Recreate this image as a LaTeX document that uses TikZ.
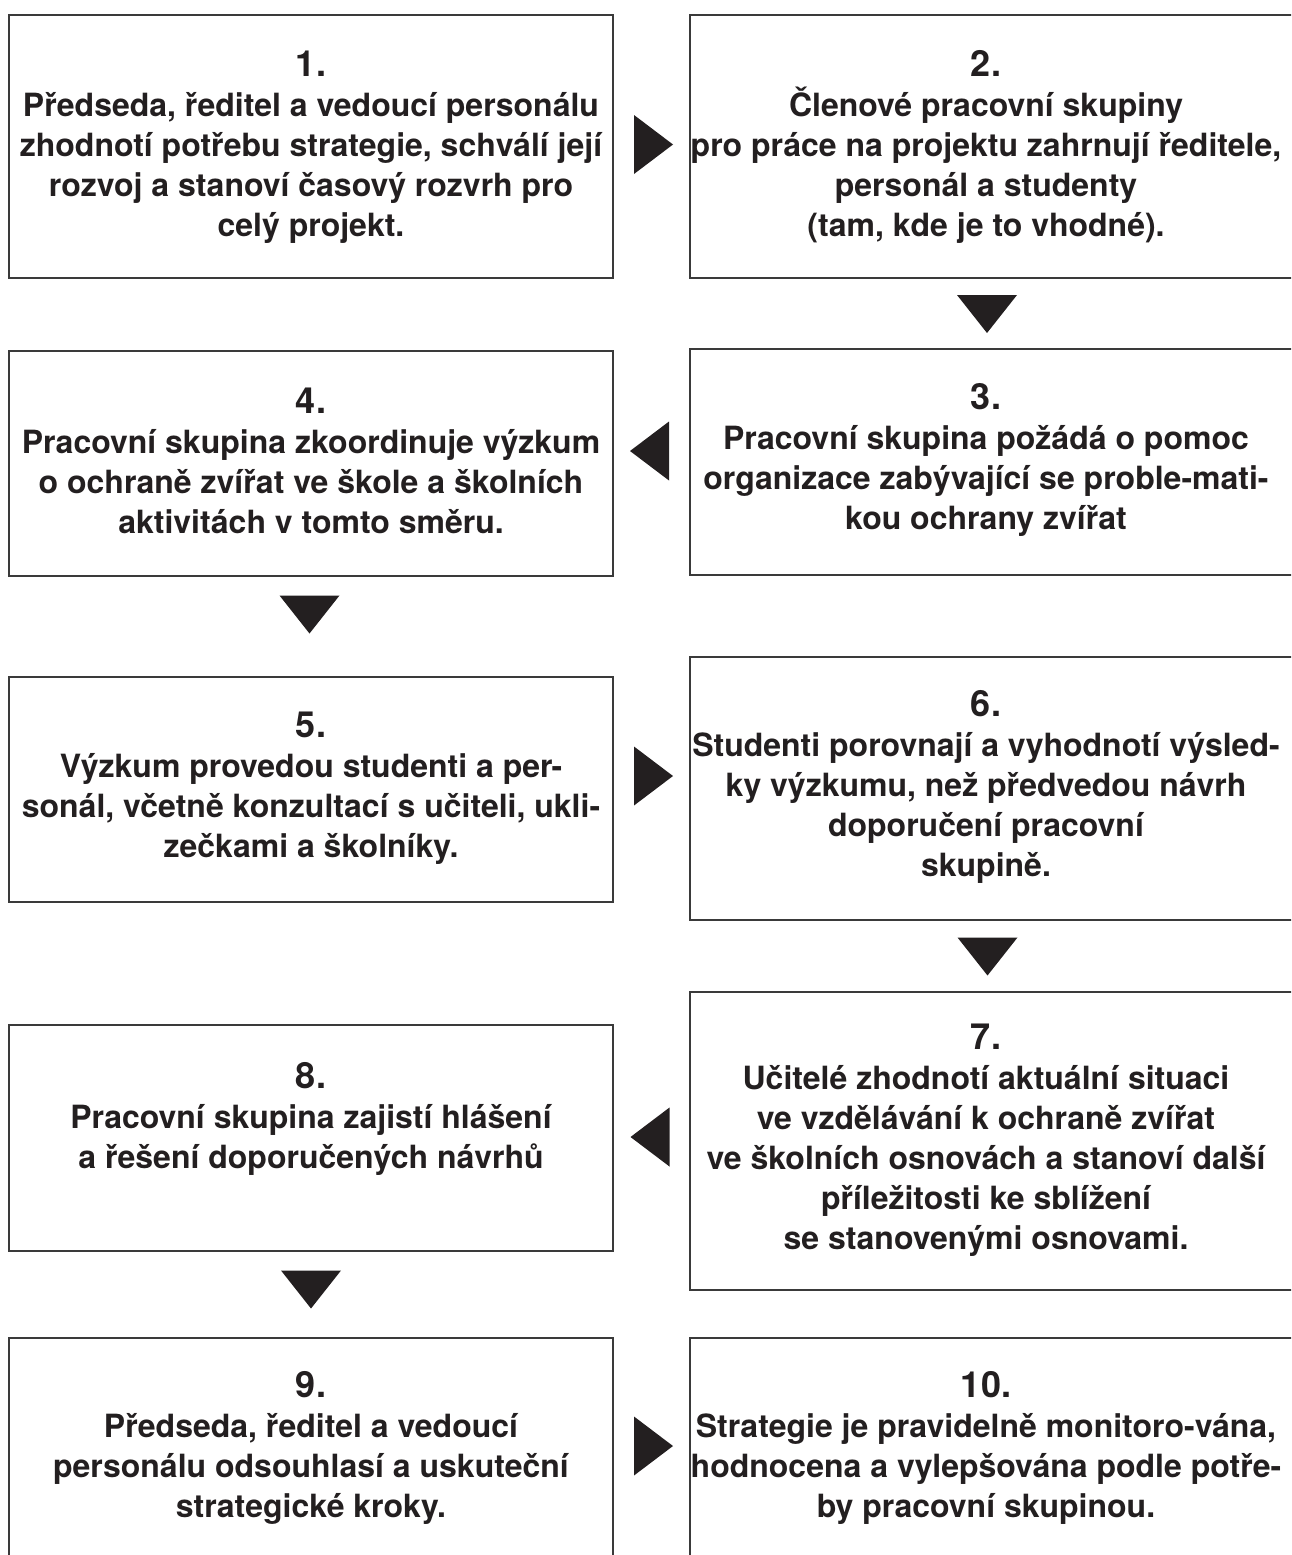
\documentclass[tikz,border=0pt]{standalone}
\usepackage{fontspec}
\setmainfont{TeX Gyre Heros}
\usetikzlibrary{calc}
\definecolor{ink}{HTML}{231F20}
\definecolor{frame}{HTML}{3A3A3A}
\newcommand\numsize{\fontsize{36}{40}\selectfont}
\newcommand\rtri[1]{\fill[tri] ([shift={(-19.5,-29.5)}]#1) -- ([shift={(19.5,0)}]#1) -- ([shift={(-19.5,29.5)}]#1) -- cycle;}
\newcommand\ltri[1]{\fill[tri] ([shift={(19.5,-29.5)}]#1) -- ([shift={(-19.5,0)}]#1) -- ([shift={(19.5,29.5)}]#1) -- cycle;}
\newcommand\dtri[1]{\fill[tri] ([shift={(-30,-19)}]#1) -- ([shift={(30,-19)}]#1) -- ([shift={(0,19)}]#1) -- cycle;}
\begin{document}
\begin{tikzpicture}[x=1pt,y=-1pt,
  stepbox/.style={draw=frame, line width=1.6pt, inner sep=0pt, fill=none},
  steptext/.style={align=center, text=ink, font=\bfseries\fontsize{32}{40}\selectfont, inner sep=0pt},
  tri/.style={fill=ink}]
\useasboundingbox (0,0) rectangle (1291,1555);
\clip (0,0) rectangle (1291,1555);
% boxes
\node[stepbox, minimum width=604pt, minimum height=263pt] (b1) at (311,146.5) {};
\node[stepbox, minimum width=610pt, minimum height=263pt] (b2) at (995,146.5) {};
\node[stepbox, minimum width=610pt, minimum height=226pt] (b3) at (995,462) {};
\node[stepbox, minimum width=604pt, minimum height=225pt] (b4) at (311,463.5) {};
\node[stepbox, minimum width=604pt, minimum height=225pt] (b5) at (311,789.5) {};
\node[stepbox, minimum width=610pt, minimum height=263pt] (b6) at (995,788.5) {};
\node[stepbox, minimum width=610pt, minimum height=298pt] (b7) at (995,1141) {};
\node[stepbox, minimum width=604pt, minimum height=226pt] (b8) at (311,1138) {};
\node[stepbox, minimum width=604pt, minimum height=240pt] (b9) at (311,1458) {};
\node[stepbox, minimum width=610pt, minimum height=240pt] (b10) at (995,1458) {};
% texts
\node[steptext] (t1) at (311,147) {{\numsize 1.}\\Předseda, ředitel a vedoucí personálu\\zhodnotí potřebu strategie, schválí její\\rozvoj a stanoví časový rozvrh pro\\celý projekt.};
\node[steptext] (t2) at (986,147) {{\numsize 2.}\\Členové pracovní skupiny\\pro práce na projektu zahrnují ředitele,\\personál a studenty\\(tam, kde je to vhodné).};
\node[steptext] (t3) at (986,460) {{\numsize 3.}\\Pracovní skupina požádá o pomoc\\organizace zabývající se proble-mati-\\kou ochrany zvířat};
\node[steptext] (t4) at (311,461) {{\numsize 4.}\\Pracovní skupina zkoordinuje výzkum\\o ochraně zvířat ve škole a školních\\aktivitách v tomto směru.};
\node[steptext] (t5) at (311,788) {{\numsize 5.}\\Výzkum provedou studenti a per-\\sonál, včetně konzultací s učiteli, ukli-\\zečkami a školníky.};
\node[steptext] (t6) at (986,787) {{\numsize 6.}\\Studenti porovnají a vyhodnotí výsled-\\ky výzkumu, než předvedou návrh\\doporučení pracovní\\skupině.};
\node[steptext] (t7) at (986,1140) {{\numsize 7.}\\Učitelé zhodnotí aktuální situaci\\ve vzdělávání k ochraně zvířat\\ve školních osnovách a stanoví další\\příležitosti ke sblížení\\se stanovenými osnovami.};
\node[steptext] (t8) at (311,1119) {{\numsize 8.}\\Pracovní skupina zajistí hlášení\\a řešení doporučených návrhů};
\node[steptext] (t9) at (311,1448) {{\numsize 9.}\\Předseda, ředitel a vedoucí\\personálu odsouhlasí a uskuteční\\strategické kroky.};
\node[steptext] (t10) at (986,1448) {{\numsize 10.}\\Strategie je pravidelně monitoro-vána,\\hodnocena a vylepšována podle potře-\\by pracovní skupinou.};
% arrows (triangles)
\coordinate (a12) at (653.5,144.5);
\coordinate (a23) at (987,314);
\coordinate (a34) at (649.5,451);
\coordinate (a45) at (309.5,614.5);
\coordinate (a56) at (653.5,776);
\coordinate (a67) at (987.5,956.5);
\coordinate (a78) at (650,1137);
\coordinate (a89) at (311,1289.5);
\coordinate (a910) at (653.5,1446);
\rtri{a12}
\dtri{a23}
\ltri{a34}
\dtri{a45}
\rtri{a56}
\dtri{a67}
\ltri{a78}
\dtri{a89}
\rtri{a910}
\end{tikzpicture}
\end{document}
